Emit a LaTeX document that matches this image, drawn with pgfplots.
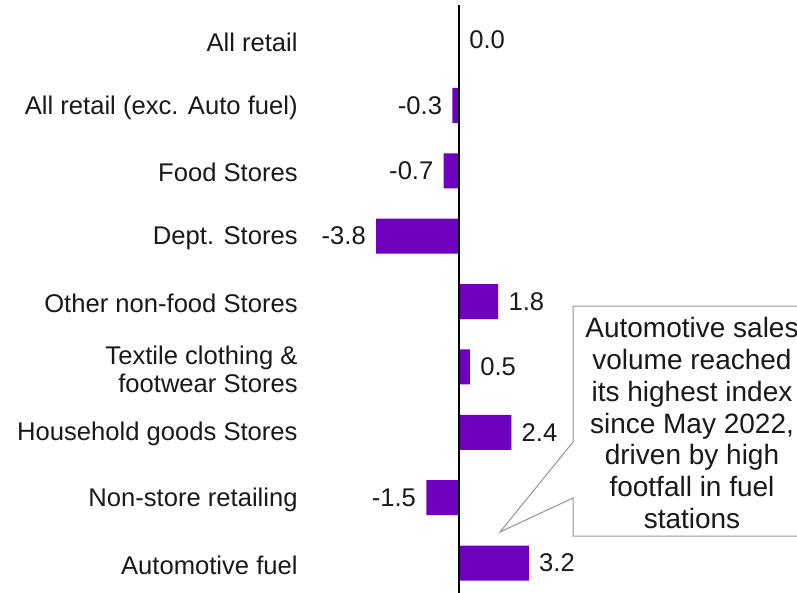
\documentclass[border=0pt]{standalone}
\usepackage{pgfplots}
\pgfplotsset{compat=1.18}
\usepackage{fontspec}
\setmainfont{Liberation Sans}
\definecolor{barpurple}{HTML}{7000BF}
\definecolor{callgray}{RGB}{150,150,140}
\definecolor{txt}{RGB}{25,25,25}
\begin{document}
\begin{tikzpicture}[x=0.5pt,y=-0.5pt]
\path[use as bounding box] (0,0) rectangle (797,593);
\begin{axis}[
  at={(185.9pt,-2.675pt)}, anchor=north west,
  scale only axis, width=98.1pt, height=293.9pt,
  xbar, bar width=17.5pt,
  xmin=-4, xmax=5, ymin=-0.53, ymax=8.46,
  y dir=reverse,
  clip=false,
  axis line style={draw=none},
  major tick length=0pt,
  xtick=\empty,
  ytick={0,1,2,3,4,5,6,7,8},
  yticklabels={All retail, All retail (exc. Auto fuel), Food Stores, Dept. Stores, Other non-food Stores, {Textile clothing \&\\footwear Stores}, Household goods Stores, Non-store retailing, Automotive fuel},
  yticklabel style={font=\fontsize{12.8}{14}\selectfont, text=txt, align=right, inner sep=0pt, anchor=east, xshift=-36.9pt, yshift=-1pt},
  nodes near coords={\pgfmathprintnumber[fixed,fixed zerofill,precision=1,assume math mode=true]{\pgfplotspointmeta}},
  every node near coord/.append style={font=\fontsize{12.8}{14}\selectfont, text=txt, inner sep=5pt},
]
\addplot[fill=barpurple, draw=none] coordinates {
  (0.0,0) (-0.3,1) (-0.7,2) (-3.8,3) (1.8,4) (0.5,5) (2.4,6) (-1.5,7) (3.2,8)
};
\draw[line width=1.3pt, black] (axis cs:0,-0.53) -- (axis cs:0,8.46);
\end{axis}
\draw[callgray, line width=0.5pt, fill=white] (573,306) -- (815,306) -- (815,536) -- (573,536) -- (573,498) -- (500,532) -- (573,442) -- cycle;
\node[align=center, font=\fontsize{14}{15.9}\selectfont, text=txt, inner sep=0pt] at (692,423) {Automotive sales\\volume reached\\its highest index\\since May 2022,\\driven by high\\footfall in fuel\\stations};
\end{tikzpicture}
\end{document}
